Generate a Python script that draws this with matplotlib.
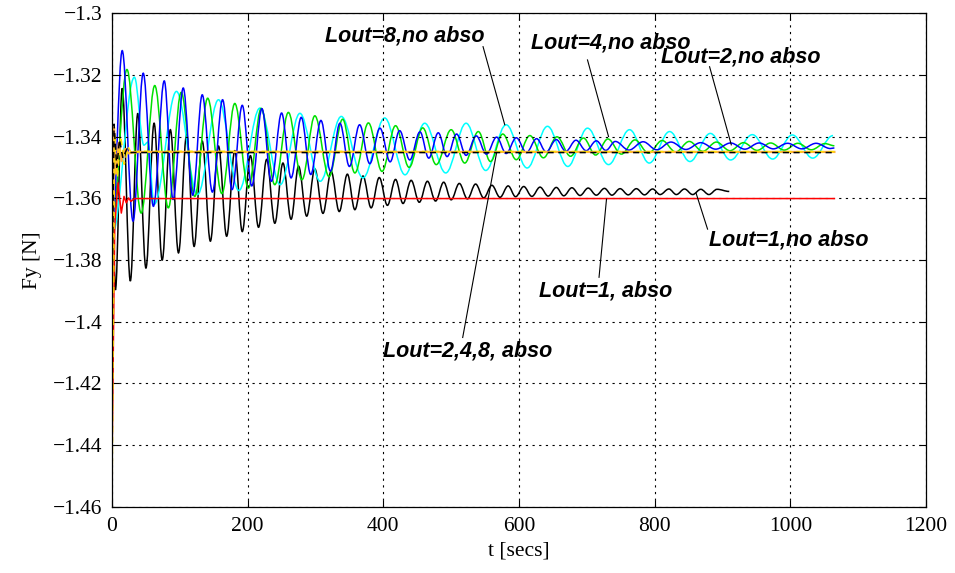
import numpy as np
import matplotlib
matplotlib.use('Agg')
import matplotlib.pyplot as plt
from matplotlib.path import Path
from matplotlib.patches import PathPatch

# ---- data (extrema of each trace) ----

# Lout=1, no abso (black)
black_start_t = [0, 5]
black_start_y = [-1.352, -1.3897]
black_peak_t = [15, 38, 62, 86, 110, 133, 157, 181, 204, 228, 252, 275, 299, 323,
                347, 370, 394, 418, 441, 465, 489, 512, 536, 560, 584, 607, 631,
                655, 678, 702, 726, 749, 773, 797, 821, 844, 868, 892]
black_peak_y = [-1.3244, -1.3325, -1.3357, -1.3378, -1.3394, -1.3415, -1.3431,
                -1.3446, -1.3462, -1.3474, -1.3486, -1.3496, -1.3505, -1.3513,
                -1.3522, -1.3528, -1.3533, -1.3539, -1.3542, -1.3545, -1.3548,
                -1.3552, -1.3554, -1.3558, -1.3560, -1.3562, -1.3564, -1.3565,
                -1.3566, -1.3567, -1.3568, -1.3569, -1.3569, -1.3570, -1.3570,
                -1.3570, -1.3571, -1.3571]
black_trough_t = [27, 50, 74, 98, 121, 145, 169, 192, 216, 240, 264, 287, 311, 335,
                  358, 382, 406, 429, 453, 477, 500, 524, 548, 572, 595, 619, 643,
                  666, 690, 714, 737, 761, 785, 808, 832, 856, 880]
black_trough_y = [-1.3868, -1.3826, -1.3800, -1.3777, -1.3756, -1.3739, -1.3723,
                  -1.3708, -1.3694, -1.3681, -1.3668, -1.3658, -1.3649, -1.3643,
                  -1.3637, -1.3631, -1.3623, -1.3617, -1.3613, -1.3609, -1.3605,
                  -1.3602, -1.3599, -1.3597, -1.3595, -1.3594, -1.3593, -1.3592,
                  -1.3591, -1.3590, -1.3590, -1.3589, -1.3589, -1.3588, -1.3588,
                  -1.3588, -1.3588]
black_end_t = [910]
black_end_y = [-1.3578]

# Lout=2, no abso (blue)
blue_start_t = [0]
blue_start_y = [-1.372]
blue_peak_t = [15, 46, 77, 105, 133, 163, 192, 221, 250, 279, 308, 336, 365, 395,
               424, 454, 481, 508, 537, 567, 596, 626, 655, 684, 714, 742, 783,
               824, 868, 912, 954, 996, 1038]
blue_peak_y = [-1.3122, -1.3195, -1.3220, -1.3243, -1.3265, -1.3281, -1.3299,
               -1.3310, -1.3324, -1.3338, -1.3348, -1.3357, -1.3362, -1.3373,
               -1.3381, -1.3385, -1.3388, -1.3392, -1.3398, -1.3402, -1.3404,
               -1.3407, -1.3410, -1.3412, -1.3414, -1.3416, -1.3417, -1.3418,
               -1.3420, -1.3421, -1.3421, -1.3422, -1.3422]
blue_trough_t = [31, 61, 90, 119, 148, 177, 206, 235, 264, 293, 322, 350, 380, 410,
                 439, 467, 494, 522, 552, 581, 611, 640, 669, 699, 728, 762, 803,
                 846, 890, 933, 975, 1017, 1059]
blue_trough_y = [-1.3674, -1.3626, -1.3604, -1.3590, -1.3580, -1.3572, -1.3560,
                 -1.3545, -1.3534, -1.3523, -1.3512, -1.3497, -1.3488, -1.3482,
                 -1.3476, -1.3470, -1.3465, -1.3461, -1.3457, -1.3455, -1.3452,
                 -1.3450, -1.3448, -1.3446, -1.3445, -1.3444, -1.3443, -1.3442,
                 -1.3441, -1.3441, -1.3440, -1.3440, -1.3439]
blue_end_t = [1065]
blue_end_y = [-1.3437]

# Lout=4, no abso (green)
green_start_t = [0]
green_start_y = [-1.368]
green_peak_t = [22, 63, 102, 141, 181, 220, 260, 299, 340, 378, 418, 458, 500, 540,
                576, 616, 656, 695, 731, 771, 811, 851, 891, 931, 971, 1011, 1051]
green_peak_y = [-1.3183, -1.3235, -1.3257, -1.3276, -1.3293, -1.3309, -1.3322,
                -1.3333, -1.3344, -1.3356, -1.3365, -1.3372, -1.3378, -1.3384,
                -1.3392, -1.3397, -1.3401, -1.3405, -1.3408, -1.3411, -1.3413,
                -1.3416, -1.3418, -1.3420, -1.3421, -1.3422, -1.3423]
green_trough_t = [43, 83, 122, 162, 201, 240, 280, 320, 358, 398, 438, 478, 520,
                  558, 596, 636, 676, 713, 751, 791, 831, 871, 911, 951, 991, 1031]
green_trough_y = [-1.3648, -1.3631, -1.3594, -1.3585, -1.3567, -1.3556, -1.3540,
                  -1.3530, -1.3518, -1.3513, -1.3500, -1.3491, -1.3486, -1.3481,
                  -1.3475, -1.3469, -1.3464, -1.3460, -1.3457, -1.3454, -1.3450,
                  -1.3448, -1.3446, -1.3445, -1.3444, -1.3443]
green_end_t = [1065]
green_end_y = [-1.3430]

# Lout=8, no abso (cyan)
cyan_start_t = [0, 47, 53]
cyan_start_y = [-1.372, -1.3428, -1.3418]
cyan_peak_t = [33, 95, 157, 218, 277, 338, 402, 461, 522, 581, 642, 701, 763, 822,
               882, 944, 1003, 1063]
cyan_peak_y = [-1.3208, -1.3254, -1.3281, -1.3308, -1.3325, -1.3335, -1.3340,
               -1.3357, -1.3357, -1.3362, -1.3367, -1.3373, -1.3378, -1.3384,
               -1.3390, -1.3394, -1.3395, -1.3397]
cyan_trough_t = [62, 126, 187, 248, 307, 370, 432, 492, 551, 612, 672, 732, 792,
                 852, 912, 974, 1033]
cyan_trough_y = [-1.3620, -1.3588, -1.3575, -1.3556, -1.3545, -1.3534, -1.3524,
                 -1.3518, -1.3510, -1.3502, -1.3497, -1.3491, -1.3486, -1.3481,
                 -1.3476, -1.3473, -1.3470]
cyan_end_t = []
cyan_end_y = []

# absorbing outlet cases
red_t = [0, 4, 8.8, 13.7, 17.7, 21, 24.4, 28, 33, 1065]
red_y = [-1.445, -1.369, -1.355, -1.3648, -1.3594, -1.3615, -1.3599, -1.3610,
         -1.3601, -1.3601]
orange_t = [0, 3, 6, 10, 14, 19, 25, 32, 1065]
orange_y = [-1.400, -1.337, -1.352, -1.342, -1.348, -1.344, -1.3455, -1.3450, -1.3450]
yellow_t = [0, 4, 8, 13, 18, 24, 30, 38, 1065]
yellow_y = [-1.460, -1.339, -1.353, -1.340, -1.349, -1.3435, -1.3460, -1.3448, -1.3449]
kdash_t = [0, 3, 7, 11, 16, 22, 28, 1065]
kdash_y = [-1.392, -1.336, -1.350, -1.341, -1.347, -1.344, -1.3452, -1.3452]

yticks = [-1.46, -1.44, -1.42, -1.40, -1.38, -1.36, -1.34, -1.32, -1.30]
ytick_labels = ['\u22121.46', '\u22121.44', '\u22121.42', '\u22121.4', '\u22121.38',
                '\u22121.36', '\u22121.34', '\u22121.32', '\u22121.3']
xticks = [0, 200, 400, 600, 800, 1000, 1200]

# annotation: text, text position, line start, line end
notes = [
    ('Lout=8,no abso', (314, -1.3074), (547, -1.3109), (579, -1.3362)),
    ('Lout=4,no abso', (618, -1.3097), (701, -1.3152), (732, -1.3400)),
    ('Lout=2,no abso', (809, -1.3142), (881, -1.3174), (913, -1.3427)),
    ('Lout=1,no abso', (880, -1.3734), (878, -1.3700), (861, -1.3583)),
    ('Lout=1, abso', (630, -1.3902), (718, -1.3856), (729, -1.3603)),
    ('Lout=2,4,8, abso', (399, -1.4096), (517, -1.4051), (567, -1.3452)),
]


def merge(*pairs):
    t = np.concatenate([np.asarray(p[0], float) for p in pairs])
    y = np.concatenate([np.asarray(p[1], float) for p in pairs])
    o = np.argsort(t, kind='stable')
    return t[o], y[o]


def smooth_path(ts, ys):
    # cubic segments with flat tangents at every extremum
    verts = [(ts[0], ys[0])]
    codes = [Path.MOVETO]
    for i in range(1, len(ts)):
        d = (ts[i] - ts[i - 1]) * 0.36
        verts += [(ts[i - 1] + d, ys[i - 1]), (ts[i] - d, ys[i]), (ts[i], ys[i])]
        codes += [Path.CURVE4] * 3
    return Path(verts, codes)


fig = plt.figure(figsize=(9.55, 5.73), dpi=100)
ax = fig.add_axes([0.1173, 0.1152, 0.9696 - 0.1173, 0.9773 - 0.1152])

series = [
    ('k', (black_start_t, black_start_y), (black_peak_t, black_peak_y),
     (black_trough_t, black_trough_y), (black_end_t, black_end_y)),
    ('#00ffff', (cyan_start_t, cyan_start_y), (cyan_peak_t, cyan_peak_y),
     (cyan_trough_t, cyan_trough_y), (cyan_end_t, cyan_end_y)),
    ('#00e000', (green_start_t, green_start_y), (green_peak_t, green_peak_y),
     (green_trough_t, green_trough_y), (green_end_t, green_end_y)),
    ('#0000ff', (blue_start_t, blue_start_y), (blue_peak_t, blue_peak_y),
     (blue_trough_t, blue_trough_y), (blue_end_t, blue_end_y)),
]
for col, *parts in series:
    t, y = merge(*parts)
    ax.add_patch(PathPatch(smooth_path(t, y), fill=False, edgecolor=col, lw=1.1,
                           clip_on=True))

ax.plot(red_t, red_y, color='#ff0000', lw=1.1)
ax.plot(orange_t, orange_y, color='#ffb040', lw=1.6)
ax.plot(yellow_t, yellow_y, color='#ffe000', lw=1.1, ls=(0, (4, 3)))
ax.plot(kdash_t, kdash_y, color='k', lw=1.1, ls=(0, (4, 3)))

for txt, pos, p0, p1 in notes:
    ax.text(pos[0], pos[1], txt, fontsize=15.5, fontweight='bold', fontstyle='italic',
            family='Liberation Sans', ha='left', va='center')
    ax.plot([p0[0], p1[0]], [p0[1], p1[1]], color='k', lw=0.8)

ax.set_xlim(0, 1200)
ax.set_ylim(-1.46, -1.30)
ax.set_xticks(xticks)
ax.set_xticklabels([str(v) for v in xticks])
ax.set_yticks(yticks)
ax.set_yticklabels(ytick_labels)
ax.grid(True, color='k', ls=(0, (2, 4)), lw=0.8)
ax.tick_params(direction='in', top=True, right=True, length=5, width=0.8,
               labelsize=15.5, pad=7)
for lab in ax.get_xticklabels() + ax.get_yticklabels():
    lab.set_family('Liberation Serif')
for s in ax.spines.values():
    s.set_linewidth(0.9)

ax.set_xlabel('t [secs]', family='Liberation Serif', fontsize=15.5, labelpad=4)
ax.set_ylabel('Fy [N]', family='Liberation Serif', fontsize=15.5, labelpad=8)

fig.savefig('out.png', dpi=100)
